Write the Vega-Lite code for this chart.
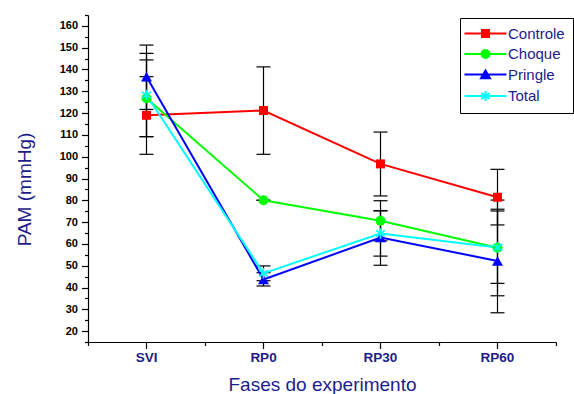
{
  "$schema": "https://vega.github.io/schema/vega-lite/v6.json",
  "width": 485,
  "height": 324,
  "autosize": {"type": "none"},
  "padding": {"left": 88, "top": 18, "right": 1, "bottom": 52},
  "background": "white",
  "config": {
    "view": {"stroke": null},
    "axis": {"grid": false, "domainColor": "black", "tickColor": "black", "domainWidth": 1.2, "tickWidth": 1.2}
  },
  "data": {
    "values": [
      {"fase": "SVI", "series": "Controle", "mean": 119.0, "lo": 101.1, "hi": 136.7},
      {"fase": "RP0", "series": "Controle", "mean": 121.2, "lo": 101.1, "hi": 141.2},
      {"fase": "RP30", "series": "Controle", "mean": 96.7, "lo": 82.0, "hi": 111.3},
      {"fase": "RP60", "series": "Controle", "mean": 81.4, "lo": 68.7, "hi": 94.2},
      {"fase": "SVI", "series": "Choque", "mean": 126.8, "lo": 109.2, "hi": 144.4},
      {"fase": "RP0", "series": "Choque", "mean": 80.0, "lo": 80.0, "hi": 80.0},
      {"fase": "RP30", "series": "Choque", "mean": 70.6, "lo": 61.4, "hi": 79.8},
      {"fase": "RP60", "series": "Choque", "mean": 58.2, "lo": 36.2, "hi": 80.1},
      {"fase": "SVI", "series": "Pringle", "mean": 136.7, "lo": 121.7, "hi": 151.2},
      {"fase": "RP0", "series": "Pringle", "mean": 43.7, "lo": 40.7, "hi": 46.8},
      {"fase": "RP30", "series": "Pringle", "mean": 62.9, "lo": 50.2, "hi": 75.2},
      {"fase": "RP60", "series": "Pringle", "mean": 52.2, "lo": 28.4, "hi": 75.9},
      {"fase": "SVI", "series": "Total", "mean": 128.3, "lo": 109.2, "hi": 147.4},
      {"fase": "RP0", "series": "Total", "mean": 46.5, "lo": 43.1, "hi": 49.9},
      {"fase": "RP30", "series": "Total", "mean": 64.8, "lo": 54.4, "hi": 75.2},
      {"fase": "RP60", "series": "Total", "mean": 58.4, "lo": 41.9, "hi": 75.1}
    ]
  },
  "resolve": {"axis": {"x": "independent", "y": "independent"}},
  "layer": [
    {
      "mark": {"type": "rule", "color": "black", "strokeWidth": 1.2},
      "encoding": {
        "x": {
          "field": "fase", "type": "nominal",
          "scale": {"type": "band", "domain": ["SVI", "RP0", "RP30", "RP60"], "paddingInner": 0, "paddingOuter": 0, "range": [0, 468]},
          "axis": {
            "orient": "bottom", "title": "Fases do experimento", "labelAngle": 0,
            "tickSize": 6.5, "labelPadding": 2, "labelFont": "Liberation Sans", "labelFontWeight": "bold",
            "labelFontSize": 13.5, "labelColor": "#1c1c8a", "titleFont": "Liberation Sans", "titleFontSize": 19,
            "titleFontWeight": "normal", "titleColor": "#1c1c8a", "titlePadding": 11
          }
        },
        "y": {
          "field": "lo", "type": "quantitative",
          "scale": {"domain": [15, 165], "nice": false, "zero": false, "range": [324, -3]},
          "axis": {
            "orient": "left", "title": "PAM (mmHg)", "values": [20, 30, 40, 50, 60, 70, 80, 90, 100, 110, 120, 130, 140, 150, 160],
            "tickSize": 6.5, "labelPadding": 4, "labelFont": "Liberation Sans", "labelFontWeight": "bold",
            "labelFontSize": 11, "labelColor": "black", "titleFont": "Liberation Sans", "titleFontSize": 19,
            "titleFontWeight": "normal", "titleColor": "#1c1c8a", "titlePadding": 25, "titleY": 171
          }
        },
        "y2": {"field": "hi"}
      }
    },
    {
      "mark": {"type": "tick", "color": "black", "size": 14, "thickness": 1.2, "orient": "horizontal", "opacity": 1},
      "encoding": {
        "x": {"field": "fase", "type": "nominal", "axis": null},
        "y": {"field": "lo", "type": "quantitative", "axis": null}
      }
    },
    {
      "mark": {"type": "tick", "color": "black", "size": 14, "thickness": 1.2, "orient": "horizontal", "opacity": 1},
      "encoding": {
        "x": {"field": "fase", "type": "nominal", "axis": null},
        "y": {"field": "hi", "type": "quantitative", "axis": null}
      }
    },
    {
      "transform": [{"filter": "datum.series == 'Controle'"}],
      "mark": {"type": "line", "strokeWidth": 2, "color": "#ff0000"},
      "encoding": {
        "x": {"field": "fase", "type": "nominal", "axis": null},
        "y": {"field": "mean", "type": "quantitative", "axis": null}
      }
    },
    {
      "transform": [{"filter": "datum.series == 'Choque'"}],
      "mark": {"type": "line", "strokeWidth": 2, "color": "#00ff00"},
      "encoding": {
        "x": {"field": "fase", "type": "nominal", "axis": null},
        "y": {"field": "mean", "type": "quantitative", "axis": null}
      }
    },
    {
      "transform": [{"filter": "datum.series == 'Pringle'"}],
      "mark": {"type": "line", "strokeWidth": 2, "color": "#0000ff"},
      "encoding": {
        "x": {"field": "fase", "type": "nominal", "axis": null},
        "y": {"field": "mean", "type": "quantitative", "axis": null}
      }
    },
    {
      "transform": [{"filter": "datum.series == 'Total'"}],
      "mark": {"type": "line", "strokeWidth": 2, "color": "#00ffff"},
      "encoding": {
        "x": {"field": "fase", "type": "nominal", "axis": null},
        "y": {"field": "mean", "type": "quantitative", "axis": null}
      }
    },
    {
      "transform": [{"filter": "datum.series == 'Controle'"}],
      "mark": {"type": "point", "shape": "square", "filled": true, "color": "#ff0000", "size": 81, "opacity": 1},
      "encoding": {
        "x": {"field": "fase", "type": "nominal", "axis": null},
        "y": {"field": "mean", "type": "quantitative", "axis": null}
      }
    },
    {
      "transform": [{"filter": "datum.series == 'Choque'"}],
      "mark": {"type": "point", "shape": "circle", "filled": true, "color": "#00ff00", "size": 100, "opacity": 1},
      "encoding": {
        "x": {"field": "fase", "type": "nominal", "axis": null},
        "y": {"field": "mean", "type": "quantitative", "axis": null}
      }
    },
    {
      "transform": [{"filter": "datum.series == 'Pringle'"}],
      "mark": {"type": "point", "shape": "triangle-up", "filled": true, "color": "#0000ff", "size": 121, "opacity": 1},
      "encoding": {
        "x": {"field": "fase", "type": "nominal", "axis": null},
        "y": {"field": "mean", "type": "quantitative", "axis": null}
      }
    },
    {
      "transform": [{"filter": "datum.series == 'Total'"}],
      "mark": {"type": "point", "shape": "M0,-1L0,1M-0.85,-0.6L0.85,0.6M-0.85,0.6L0.85,-0.6", "filled": false, "color": "#00ffff", "strokeWidth": 1.6, "size": 110, "opacity": 1},
      "encoding": {
        "x": {"field": "fase", "type": "nominal", "axis": null},
        "y": {"field": "mean", "type": "quantitative", "axis": null}
      }
    },
    {
      "transform": [{"filter": "datum.mean > 1000"}],
      "mark": {"type": "point", "filled": false, "strokeWidth": 2, "size": 100, "opacity": 1},
      "encoding": {
        "x": {
          "field": "fase", "type": "nominal",
          "axis": {"orient": "bottom", "title": null, "labels": false, "domain": false, "tickBand": "extent", "tickSize": 3.5}
        },
        "y": {
          "field": "mean", "type": "quantitative",
          "axis": {"orient": "left", "title": null, "labels": false, "domain": false, "tickSize": 3.5,
                   "values": [15, 25, 35, 45, 55, 65, 75, 85, 95, 105, 115, 125, 135, 145, 155, 165]}
        },
        "color": {
          "field": "series", "type": "nominal",
          "scale": {"domain": ["Controle", "Choque", "Pringle", "Total"], "range": ["#ff0000", "#00ff00", "#0000ff", "#00ffff"]},
          "legend": {"orient": "top-right", "offset": 0, "title": null, "strokeColor": "black", "fillColor": "white", "padding": 8, "rowPadding": 3.5, "symbolSize": 100, "symbolOffset": 10, "labelOffset": 15, "labelFont": "Liberation Sans", "labelFontSize": 15, "labelColor": "#1c1c8a", "labelLimit": 200, "symbolStrokeWidth": 2}
        },
        "shape": {
          "field": "series", "type": "nominal",
          "scale": {
            "domain": ["Controle", "Choque", "Pringle", "Total"],
            "range": [
              "M-4.2,0L4.2,0M-0.9,-0.7L0.9,-0.7M-0.9,-0.35L0.9,-0.35M-0.9,0.35L0.9,0.35M-0.9,0.7L0.9,0.7",
              "M-4.2,0L4.2,0M-0.8,0A0.8,0.8,0,1,0,0.8,0A0.8,0.8,0,1,0,-0.8,0M-0.45,0A0.45,0.45,0,1,0,0.45,0A0.45,0.45,0,1,0,-0.45,0M-0.15,0A0.15,0.15,0,1,0,0.15,0A0.15,0.15,0,1,0,-0.15,0",
              "M-4.2,0L4.2,0M0,-0.8L0.9,0.75L-0.9,0.75ZM-0.89,0.65L0.89,0.65M-0.69,0.3L0.69,0.3M-0.5,-0.05L0.5,-0.05M-0.31,-0.4L0.31,-0.4",
              "M-4.2,0L4.2,0M0,-1L0,1M-0.85,-0.6L0.85,0.6M-0.85,0.6L0.85,-0.6"
            ]
          },
          "legend": {"orient": "top-right", "offset": 0, "title": null, "strokeColor": "black", "fillColor": "white", "padding": 8, "rowPadding": 3.5, "symbolSize": 100, "symbolOffset": 10, "labelOffset": 15, "labelFont": "Liberation Sans", "labelFontSize": 15, "labelColor": "#1c1c8a", "labelLimit": 200, "symbolStrokeWidth": 2}
        }
      }
    }
  ]
}
